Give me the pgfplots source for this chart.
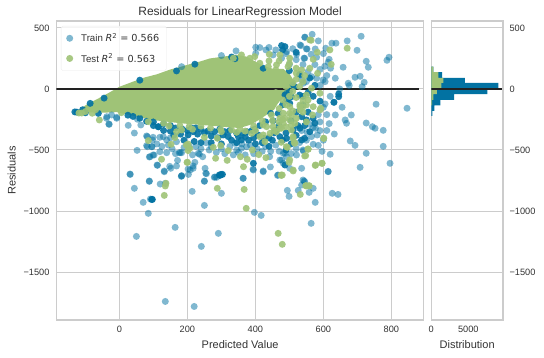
\documentclass[border=0pt]{standalone}
\usepackage{fontspec}
\setmainfont{Liberation Sans}
\newfontfamily\djv{DejaVu Sans}
\usepackage{pgfplots}
\pgfplotsset{compat=1.18}
\definecolor{trainc}{HTML}{0272A2}
\definecolor{testc}{HTML}{9FC377}
\definecolor{gridc}{HTML}{CCCCCC}
\definecolor{txt}{HTML}{333333}
\definecolor{zero}{HTML}{222222}
\pgfplotsset{
  common/.style={
    scale only axis, height=299pt,
    ymin=-1893, ymax=557,
    ytick={-1500,-1000,-500,0,500},
    yticklabels={−1500,−1000,−500,0,500},
    ymajorgrids, grid style={gridc,line width=1pt},
    axis line style={gridc,line width=1.2pt},
    tick style={draw=none},
    tick label style={font=\fontsize{9.2}{10}\selectfont,text=txt},
    label style={font=\fontsize{11}{12}\selectfont,text=txt},
    clip=true,
  }
}
\begin{document}
\begin{tikzpicture}[x=1pt,y=1pt]
\path[use as bounding box] (0,0) rectangle (544,357);
\begin{axis}[common, at={(56.5pt,37pt)}, anchor=south west, width=367.2pt,
  xmin=-185, xmax=895,
  xtick={0,200,400,600,800}, xticklabels={0,200,400,600,800},
  xmajorgrids,
  xticklabel style={yshift=-3pt},
  yticklabel style={xshift=-3.5pt},
  xlabel={Predicted Value}, xlabel style={yshift=-1pt},
  ylabel={Residuals}, ylabel style={yshift=1pt},
  title={Residuals for LinearRegression Model},
  title style={font=\fontsize{12}{13}\selectfont,text=txt,yshift=-7pt},
  legend style={at={(4.5pt,294pt)},anchor=north west,draw=gridc!40,fill=white,fill opacity=.8,text opacity=1,
    font=\fontsize{9.7}{11}\selectfont,text=txt,row sep=6pt,inner xsep=5pt,inner ysep=5pt,rounded corners=1.5pt},
  legend cell align=left,
]
% train: dense lower and upper rims (overplotted, dark)
\addplot[only marks,mark=*,mark size=3.5pt,mark options={draw=trainc,draw opacity=0,fill=trainc,fill opacity=.9},forget plot] coordinates {
(-131,-188)(-125,-190)(-108,-170)(-100,-195)(-86,-118)(-62,-200)(-45,-75)(25,-215)(40,-225)(60,-240)(60,72)(80,-265)(100,-270)(115,-310)(130,-285)(150,-300)(165,-320)(168,148)(185,-330)(200,-340)(212,-320)(217,-350)(202,-377)(222,203)(225,-320)(240,-330)(260,-345)(280,-350)(295,-330)(305,-377)(310,-350)(325,-340)(330,262)(340,248)(345,-363)(350,-391)(359,-418)(364,-363)(375,-350)(390,-340)(398,-330)(408,-377)(413,-300)(423,170)(430,-270)(452,-260)(462,-336)(467,-200)(445,-200)(480,-130)(477,356)(487,347)(487,-49)(492,-90)(506,-63)(500,-20)(501,-117)(515,20)(530,-50)(536,-227)(550,-254)(531,-322)(545,-404)(492,-404)(472,-391)(511,-336)(394,-609)(299,-700)(294,-705)(487,-623)(97,-905)(95,-905)(296,-708)(303,-700)(114,-309)(631,-109)(645,-63)(645,-41)(536,-418)(540,-60)(555,-30)(575,30)(560,90)(530,120)
(470,-300)(490,-360)(520,-380)(450,-420)(420,-440)(440,-470)(400,-450)(380,-420)(330,-420)(300,-450)(270,-440)(240,-440)(220,-430)(190,-420)(160,-380)(130,-340)(100,-300)(440,-400)(500,150)(480,320)(520,300)(540,-130)(570,-240)(490,-500)
(230,-370)(250,-360)(270,-385)(290,-400)(320,-390)(345,-440)(370,-390)(395,-400)(425,-405)(455,-360)(480,-420)(505,-450)(525,-300)(555,-190)(570,-60)(590,-100)(520,-190)(545,-300)(505,-260)(180,-370)(150,-345)(560,-350)(575,-280)
};
% train
\addplot[only marks,mark=*,mark size=3.5pt,mark options={draw=trainc,draw opacity=0,fill=trainc,fill opacity=.5}] coordinates {
(-30,-290)(-8,-240)(-38,-240)(-23,-213)(26,-298)(44,-361)(52,-503)(31,-697)(88,-757)(82,-391)(82,-473)(95,-473)(99,-396)(119,-396)(88,-557)(99,-541)(111,-623)(132,-672)(148,-634)(171,-585)(119,-514)(139,-522)(179,-522)(183,-713)(139,-418)(129,-391)(144,-459)(168,-432)(63,-295)(53,-248)(-31,-287)(-8,-232)(-37,-227)(80,-385)(97,-418)(96,-473)(80,-464)(90,-555)(102,-541)(112,-626)(151,-650)(168,-631)(176,-522)(208,-664)(217,-650)(235,-535)(245,-555)
(264,-500)(183,-522)(232,-527)(222,-601)(217,-631)(202,-656)(183,-710)(254,-691)(252,-650)(250,-754)(281,-721)(340,-445)(359,-486)(374,-473)(345,-500)(393,-658)(364,-732)(467,-705)(423,-672)(444,-639)(482,-527)(492,-555)(477,-582)(501,-650)(521,-541)(536,-650)(545,-760)
(32,-700)(132,-678)(44,-814)(88,-754)(120,-779)(135,-773)(70,-929)(91,-902)(85,-1019)(50,-1208)(164,-1134)(214,-839)(250,-757)(256,-694)(182,-716)(203,-700)(250,-954)(300,-855)(291,-1183)(241,-1290)(135,-1741)(220,-1782)(279,-724)(286,-724)(364,-732)(397,-1011)(417,-1036)(394,-664)(423,-678)(465,-708)
(543,-754)(558,-847)(570,-814)(494,-831)(499,-880)(526,-831)(576,-929)(626,-855)(643,-864)(564,-1101)(614,-678)(536,-787)
(567,448)(546,424)(585,394)(711,432)(670,394)(625,375)(637,375)(699,317)(607,334)(552,328)(534,355)(576,328)(564,284)(543,252)(726,227)(732,178)(793,260)(787,235)(658,178)(617,243)(614,219)(604,186)(621,170)(635,88)(693,96)(708,104)(720,55)(714,19)(676,28)(673,47)(605,60)(599,74)(580,88)(565,101)(550,60)(536,74)(648,0)(631,-109)(655,-150)(605,-123)(755,-125)(846,-158)(635,-213)(682,-213)(664,-254)(668,-281)(617,-284)(726,-279)(744,-309)(752,-322)(776,-339)(632,-369)(570,-314)(577,-322)(590,-341)(552,-355)(536,-341)(582,-377)(679,-426)(693,-462)(776,-470)(570,-453)(585,-462)(596,-511)(541,-508)(726,-527)(620,-535)(796,-609)(708,-642)(614,-675)(540,-500)(540,-746)(442,-555)(487,-527)(472,-582)(482,-609)
(183,183)(300,274)(343,312)(401,342)(413,339)(431,320)(492,306)(531,361)(545,424)(550,328)(452,279)(521,284)(545,252)(401,293)(477,252)(531,115)(511,33)(541,47)(492,-35)(555,142)
(110,-450)(125,-470)(150,-400)(155,-490)(165,-530)(190,-480)(205,-470)(215,-540)(225,-470)(240,-490)(255,-440)(270,-470)(285,-520)(300,-490)(310,-530)(325,-470)(335,-540)(350,-520)(360,-450)(370,-540)(385,-460)(395,-530)(405,-490)(420,-510)(430,-470)(445,-510)(460,-460)(470,-510)(505,-530)(520,-490)(530,-440)(550,-420)(565,-390)(600,-420)(610,-340)(590,-270)(560,-290)(610,-210)(585,-210)(600,-150)(620,-60)(590,30)(610,110)(590,160)(575,200)(510,330)(490,290)(460,320)(440,340)(580,260)(600,290)(500,200)(520,240)(540,200)
};
% the overplotted mass of test points
\addplot[fill=testc,draw=none,forget plot] coordinates {
(-125,-185)(-95,-125)(-60,-75)(-30,-30)(0,18)(40,60)(75,95)(110,120)(150,160)(178,180)(215,210)(237,225)(266,250)(305,265)(345,280)(374,265)(403,220)(423,190)(452,165)(482,165)(501,120)(520,40)(490,-60)(470,-100)(455,-170)(423,-230)(389,-290)(354,-320)(305,-310)(266,-300)(217,-290)(178,-280)(99,-255)(50,-225)(-8,-190)(-57,-195)(-97,-190)
} --cycle;
% test
\addplot[only marks,mark=*,mark size=3.5pt,mark options={draw=testc,draw opacity=0,fill=testc,fill opacity=.9}] coordinates {
(-119,-197)(-111,-197)(-100,-185)(-80,-199)(-59,-254)(-70,-170)(6,-194)(41,-167)(85,-268)(60,-190)(110,-225)(150,-250)(85,-423)(124,-576)(152,-453)(163,-399)(168,-350)(146,-303)(183,-336)(197,-459)(199,-601)(207,-486)(137,-773)(178,-300)(205,-310)(240,-305)(268,-320)(298,-330)(330,-335)(355,-330)(389,-363)(395,-305)
(250,-396)(288,-404)(202,-451)(202,-505)(200,-601)(276,-478)(298,-464)(320,-505)(283,-568)(317,-585)(356,-555)(376,-576)(391,-500)(410,-538)(431,-563)(365,-637)(476,-437)(494,-478)(514,-437)(548,-546)(555,-492)(499,-601)(511,-664)(476,-708)(479,-705)
(423,-295)(433,-309)(447,-213)(472,-240)(487,-240)(501,-145)(516,-281)(506,-336)(477,-322)(462,-350)(443,-363)(423,-377)(413,-391)(428,-432)(531,-131)(531,-172)(555,-90)(501,-254)(511,-404)
(359,279)(335,252)(398,265)(441,284)(472,279)(501,252)(384,252)(413,211)(438,183)(462,197)(496,183)(536,156)(460,156)(462,88)(560,402)(583,129)(560,170)(570,243)(582,301)(623,202)(619,320)(670,334)(564,399)
(540,-145)(590,-172)(570,-145)(590,-35)(565,6)(482,-199)(506,-213)(531,-145)(482,-281)(452,-309)(472,-322)(506,-295)(568,-213)(592,-158)(540,-90)(442,-63)(462,-90)(550,-131)(511,-391)(601,-404)(555,-492)(577,-623)(596,-609)(491,-473)(516,-445)(501,-582)(545,-549)(555,-494)(558,-795)(550,-795)(576,-626)(596,-609)(601,-404)
(135,-795)(132,-872)(288,-814)(367,-823)(373,-978)(467,-1183)(479,-1273)(476,-705)(511,-672)(548,-792)(558,-792)(532,-864)
(440,230)(470,230)(500,210)(520,170)(520,130)(545,110)(520,80)(540,60)(510,50)(530,20)(510,-20)(520,-70)(550,-50)(500,-60)(480,-90)(510,-180)(540,-190)(450,-260)(480,-250)(420,-260)(520,-240)(550,-270)(470,-270)
(470,-160)(490,-130)(500,-200)(460,-30)(490,20)(470,60)(495,90)(300,-350)(345,-355)(215,-330)(130,-280)(400,-340)(370,-345)(455,-340)(490,-310)
};
\addplot[zero,line width=2pt,forget plot] coordinates {(-185,0)(880,0)};
\legend{\hspace{6pt}Train {\djv\itshape R}{\djv\textsuperscript{2} = 0.566},\hspace{6pt}Test {\djv\itshape R}{\djv\textsuperscript{2} = 0.563}}
\end{axis}
\begin{axis}[common, at={(431.3pt,37pt)}, anchor=south west, width=71.7pt,
  xmin=0, xmax=9690,
  xtick={0,5000}, xticklabels={0,5000},
  xticklabel style={yshift=-3pt},
  yticklabel pos=right,
  yticklabel style={xshift=3pt},
  xlabel={Distribution}, xlabel style={yshift=-1pt},
]
\addplot[xbar interval,fill=trainc,draw=none,forget plot] coordinates {
(135,-221)(405,-180)(1216,-134)(3100,-90)(7570,-43)(9050,0)(4550,49)(1446,90)(270,139)(0,183)
};
\addplot[xbar interval,fill=testc,draw=none,forget plot] coordinates {
(95,-134)(270,-90)(740,-43)(1350,0)(1620,49)(950,90)(270,139)(40,183)
};
\addplot[zero,line width=2pt,forget plot] coordinates {(0,0)(9500,0)};
\end{axis}
\end{tikzpicture}
\end{document}
